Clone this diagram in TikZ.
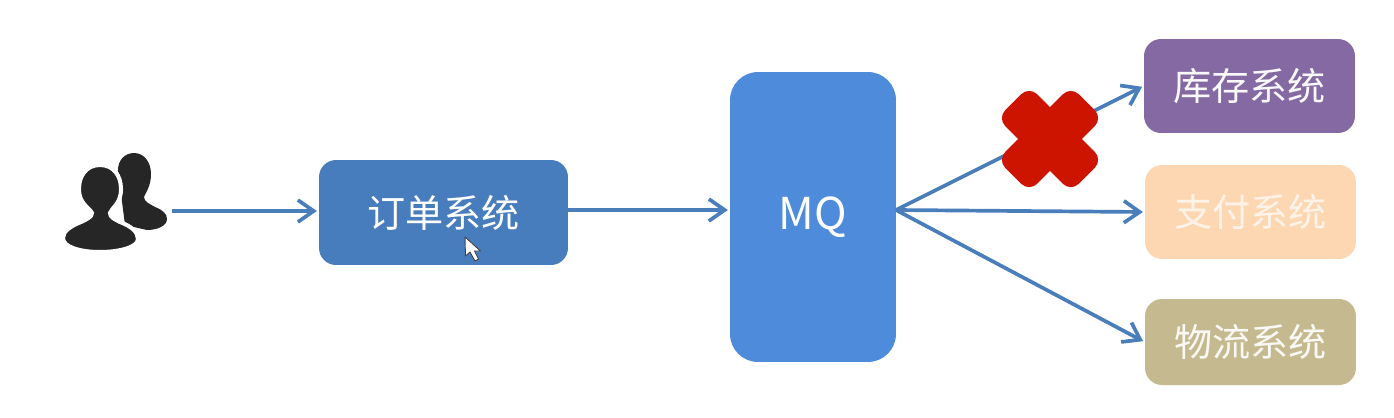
\documentclass[tikz,border=0pt]{standalone}
\usepackage{fontspec}
\setmainfont{Noto Sans CJK SC}
\usepackage{tikz}
\usetikzlibrary{arrows.meta}
\definecolor{ordercolor}{HTML}{477CBD}
\definecolor{mqcolor}{HTML}{4F8BDB}
\definecolor{stockcolor}{HTML}{8469A3}
\definecolor{paycolor}{HTML}{FDD7B2}
\definecolor{logisticscolor}{HTML}{C4B98F}
\definecolor{linkcolor}{HTML}{4A7EBB}
\definecolor{crosscolor}{HTML}{CC1400}
\definecolor{personcolor}{HTML}{262626}
\tikzset{
    sysbox/.style={rectangle, rounded corners=0.34cm, inner sep=0pt, text=white, font=\fontsize{21.7}{26}\selectfont},
    link/.style={draw=linkcolor, line width=2.1pt, -{Straight Barb[length=9pt, width=12.5pt, line width=2.1pt]}, shorten >=1pt},
    crossbar/.style={rectangle, fill=crosscolor, rounded corners=0.22cm, minimum width=2.08cm, minimum height=0.9cm, inner sep=0pt, rotate=45}
}
\begin{document}
\begin{tikzpicture}[x=0.02cm, y=-0.02cm]
    \useasboundingbox (0,0) rectangle (1394,417);

    \node[inner sep=0pt, minimum width=2.18cm, minimum height=1.96cm] (users) at (117,211) {};
    \fill[personcolor] (134,153) .. controls (144,153) and (151,162) .. (151,174) .. controls (151,186) and (146,192) .. (144,197) .. controls (144,202) and (150,204) .. (155,207) .. controls (163,210) and (167,214) .. (167,219) .. controls (167,226) and (157,230) .. (147,230) -- (125,225) -- (118,170) .. controls (118,160) and (125,153) .. (134,153) -- cycle;
    \filldraw[personcolor, draw=white, line width=2.3pt] (100,165) .. controls (113,165) and (121,175) .. (121,189) .. controls (121,204) and (112,207) .. (110,213) .. controls (110,217) and (114,219) .. (120,222) .. controls (131,226) and (138,232) .. (138,239) .. controls (138,247) and (120,252) .. (100,252) .. controls (80,252) and (63,247) .. (63,238) .. controls (63,231) and (71,226) .. (81,222) .. controls (87,219) and (92,217) .. (92,213) .. controls (89,207) and (79,204) .. (79,189) .. controls (79,175) and (87,165) .. (100,165) -- cycle;

    \node[sysbox, fill=ordercolor, minimum width=4.98cm, minimum height=2.1cm] (order) at (443.5,212.5) {订单系统};
    \node[sysbox, fill=mqcolor, rounded corners=0.56cm, minimum width=3.32cm, minimum height=5.8cm, font=\fontsize{25}{30}\selectfont] (mq) at (813,217) {\raisebox{-1.5pt}{MQ}};
    \node[sysbox, fill=stockcolor, minimum width=4.22cm, minimum height=1.88cm, text=white!95!stockcolor] (stock) at (1249.5,86) {库存系统};
    \node[sysbox, fill=paycolor, minimum width=4.22cm, minimum height=1.88cm, text=white!70!paycolor] (pay) at (1250.5,212) {支付系统};
    \node[sysbox, fill=logisticscolor, minimum width=4.22cm, minimum height=1.72cm, text=white!90!logisticscolor] (logistics) at (1250.5,342) {物流系统};

    \coordinate (fan) at (896,210);
    \draw[link] (users.east) -- (order.west |- users.east);
    \draw[link] (order.east |- fan) -- (mq.west |- fan);
    \draw[link] (fan) -- (stock.west);
    \draw[link] (fan) -- (pay.west);
    \draw[link] (fan) -- (logistics.west);

    \node[crossbar] (crossa) at (1050,139) {};
    \node[crossbar, rotate=90] (crossb) at (1050,139) {};

    \filldraw[fill=white, draw=black!75, line width=0.5pt, line join=round] (465,237) -- (465.5,256) -- (470,252) -- (475,261) -- (478.5,259) -- (474.5,251) -- (480.5,251) -- cycle;
\end{tikzpicture}
\end{document}
